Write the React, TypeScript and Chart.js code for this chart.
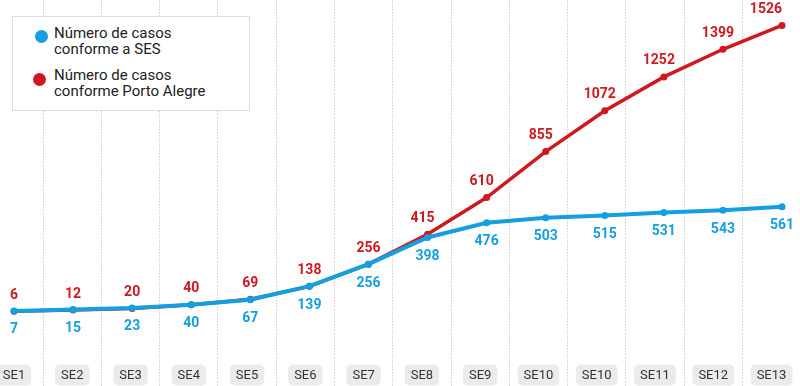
import React, { useEffect, useRef } from 'react';
import { Chart, registerables } from 'chart.js';

Chart.register(...registerables);

// ---- data ----
const weekLabels = ['SE1', 'SE2', 'SE3', 'SE4', 'SE5', 'SE6', 'SE7', 'SE8', 'SE9', 'SE10', 'SE10', 'SE11', 'SE12', 'SE13'];
const sesCases = [7, 15, 23, 40, 67, 139, 256, 398, 476, 503, 515, 531, 543, 561];
const poaCases = [6, 12, 20, 40, 69, 138, 256, 415, 610, 855, 1072, 1252, 1399, 1526];
const sesName = ['Número de casos', 'conforme a SES'];
const poaName = ['Número de casos', 'conforme Porto Alegre'];

const BLUE = '#139fe0';
const RED = '#d0181f';
const FONT = 'Roboto, "Noto Sans", sans-serif';

function roundRect(ctx: CanvasRenderingContext2D, x: number, y: number, w: number, h: number, r: number) {
  ctx.beginPath();
  ctx.moveTo(x + r, y);
  ctx.lineTo(x + w - r, y);
  ctx.arcTo(x + w, y, x + w, y + r, r);
  ctx.lineTo(x + w, y + h - r);
  ctx.arcTo(x + w, y + h, x + w - r, y + h, r);
  ctx.lineTo(x + r, y + h);
  ctx.arcTo(x, y + h, x, y + h - r, r);
  ctx.lineTo(x, y + r);
  ctx.arcTo(x, y, x + r, y, r);
  ctx.closePath();
}

const weekBadges = {
  id: 'weekBadges',
  beforeDatasetsDraw(chart: any) {
    const ctx: CanvasRenderingContext2D = chart.ctx;
    const scale = chart.scales.xl;
    const yMid = chart.chartArea.bottom - 11;
    ctx.save();
    ctx.font = `13px ${FONT}`;
    ctx.textAlign = 'center';
    ctx.textBaseline = 'middle';
    weekLabels.forEach((lab, i) => {
      const x = scale.getPixelForValue(i);
      const w = ctx.measureText(lab).width + 12;
      ctx.fillStyle = '#ebebeb';
      roundRect(ctx, x - w / 2, yMid - 10.5, w, 21, 5);
      ctx.fill();
      ctx.fillStyle = '#333333';
      ctx.fillText(lab, x, yMid + 0.5);
    });
    ctx.restore();
  },
};

const valueLabels = {
  id: 'valueLabels',
  afterDatasetsDraw(chart: any) {
    const ctx: CanvasRenderingContext2D = chart.ctx;
    chart.data.datasets.forEach((ds: any, di: number) => {
      const meta = chart.getDatasetMeta(di);
      const cfg = ds.valueLabel;
      ctx.save();
      ctx.font = `bold 14px ${FONT}`;
      ctx.fillStyle = ds.borderColor;
      ctx.textBaseline = 'middle';
      meta.data.forEach((pt: any, i: number) => {
        const v = ds.data[i];
        const text = String(v);
        const w = ctx.measureText(text).width;
        let x = pt.x + (cfg.steepShift && v > 400 ? cfg.steepShift : 0);
        ctx.textAlign = 'center';
        if (cfg.clampRight && x + w / 2 > chart.chartArea.right) {
          ctx.textAlign = 'right';
          x = chart.chartArea.right;
        }
        ctx.fillText(text, x, pt.y + cfg.dy);
      });
      ctx.restore();
    });
  },
};

function LegendItem({ color, lines, dotX, dotY, textTop }: { color: string; lines: string[]; dotX: number; dotY: number; textTop: number }) {
  return (
    <>
      <div
        style={{
          position: 'absolute',
          left: dotX - 6.5,
          top: dotY - 6.5,
          width: 13,
          height: 13,
          borderRadius: '50%',
          background: color,
        }}
      />
      <div
        style={{
          position: 'absolute',
          left: 54,
          top: textTop,
          fontFamily: FONT,
          fontSize: 15,
          lineHeight: '15.5px',
          color: '#222',
          whiteSpace: 'nowrap',
        }}
      >
        {lines.map((l, i) => (
          <div key={i}>{l}</div>
        ))}
      </div>
    </>
  );
}

export default function App() {
  const ref = useRef<HTMLCanvasElement | null>(null);

  useEffect(() => {
    if (!ref.current) return;
    const chart = new Chart(ref.current, {
      type: 'line',
      data: {
        labels: weekLabels,
        datasets: [
          {
            label: sesName.join(' '),
            data: sesCases,
            borderColor: BLUE,
            backgroundColor: BLUE,
            borderWidth: 4,
            pointRadius: 3.5,
            pointBorderWidth: 0,
            pointBackgroundColor: BLUE,
            tension: 0,
            order: 0,
            xAxisID: 'x',
            yAxisID: 'y',
            valueLabel: { dy: 19, steepShift: 0, clampRight: false },
          } as any,
          {
            label: poaName.join(' '),
            data: poaCases,
            borderColor: RED,
            backgroundColor: RED,
            borderWidth: 3.5,
            pointRadius: 3.5,
            pointBorderWidth: 0,
            pointBackgroundColor: RED,
            tension: 0,
            order: 1,
            xAxisID: 'x',
            yAxisID: 'y',
            valueLabel: { dy: -16, steepShift: -5, clampRight: true },
          } as any,
        ],
      },
      options: {
        responsive: false,
        animation: false,
        events: [],
        clip: false,
        layout: { autoPadding: false, padding: { left: 14, right: 18, top: 0, bottom: 0 } },
        plugins: {
          legend: { display: false },
          tooltip: { enabled: false },
        },
        scales: {
          x: { type: 'category', display: false, offset: false },
          xl: {
            type: 'linear',
            axis: 'x',
            position: 'bottom',
            min: 0,
            max: 13.18,
            ticks: { display: false, stepSize: 1, includeBounds: false },
            grid: { offset: true, color: '#cdcdcd', lineWidth: 1, drawTicks: false, tickLength: 0 },
            border: { display: false, dash: [1.5, 1.5] },
          },
          y: { type: 'linear', display: false, min: -392, max: 1661 },
        },
      } as any,
      plugins: [weekBadges, valueLabels],
    });
    return () => chart.destroy();
  }, []);

  return (
    <div style={{ position: 'absolute', left: 0, top: 0, width: 800, height: 386, background: '#fff' }}>
      <canvas ref={ref} width={800} height={386} style={{ display: 'block', width: 800, height: 386 }} />
      <div
        style={{
          position: 'absolute',
          left: 12,
          top: 16,
          width: 236,
          height: 93,
          background: '#fff',
          border: '1px solid #dedede',
        }}
      />
      <LegendItem color={BLUE} lines={sesName} dotX={41} dotY={36} textTop={26} />
      <LegendItem color={RED} lines={poaName} dotX={39} dotY={79} textTop={68} />
    </div>
  );
}
